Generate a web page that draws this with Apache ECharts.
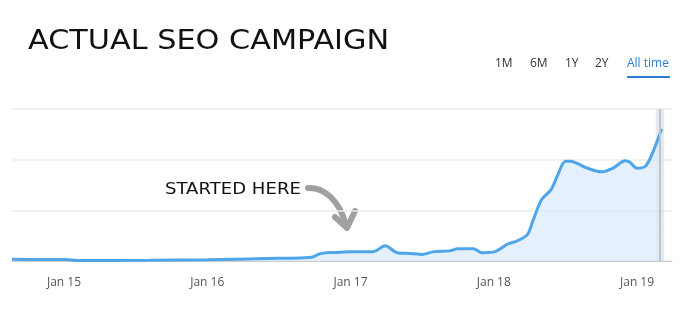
<!DOCTYPE html>
<html>
<head>
<meta charset="utf-8">
<script src="https://cdn.jsdelivr.net/npm/echarts@6/dist/echarts.min.js"></script>
<style>html,body{margin:0;padding:0;background:#fff;}#c{width:690px;height:321px;}</style>
</head>
<body>
<div id="c"></div>
<script>
// decimal year of each sample
const years = [2014.637, 2014.833, 2015.014, 2015.092, 2015.6, 2016.0, 2016.417, 2016.65, 2016.742, 2016.783, 2016.858, 2016.908, 2017.0, 2017.158, 2017.242, 2017.325, 2017.417, 2017.5, 2017.575, 2017.692, 2017.75, 2017.858, 2017.917, 2018.008, 2018.1, 2018.158, 2018.233, 2018.275, 2018.333, 2018.4, 2018.442, 2018.5, 2018.533, 2018.65, 2018.75, 2018.833, 2018.917, 2018.95, 2019.0, 2019.058, 2019.108, 2019.172];
// traffic values
const traffic = [3.4, 3, 3, 1, 1.4, 2.4, 5, 6, 8.5, 14, 17, 17, 18.4, 18.4, 30, 16.4, 15, 13, 18, 20, 24, 24, 16.4, 18.4, 34, 39, 51.5, 81, 121, 141, 167, 197, 197, 183.5, 176, 183.5, 198, 195, 183, 187, 213, 261];
const tickYears = [2015, 2016, 2017, 2018, 2019];
const tickLabels = ['Jan 15', 'Jan 16', 'Jan 17', 'Jan 18', 'Jan 19'];
const ranges = ['1M', '6M', '1Y', '2Y', 'All time'];

const chart = echarts.init(document.getElementById('c'), null, {renderer: 'canvas'});
const rangeX = [495, 530, 565, 595, 627];
const graphics = ranges.map((r, i) => ({
  type: 'text', x: rangeX[i], y: 58,
  style: {text: r, font: '12px "Open Sans"', fill: i === 4 ? '#2b7bd2' : '#333'}
}));
graphics.push({type: 'rect', shape: {x: 627, y: 76, width: 43, height: 2}, style: {fill: '#2b7bd2'}});
graphics.push({type: 'text', x: 28, y: 29, scaleX: 1.165, style: {text: 'ACTUAL SEO CAMPAIGN', font: '26px "DejaVu Sans"', fill: '#111'}});
graphics.push({type: 'text', x: 165, y: 182, scaleX: 1.13, style: {text: 'STARTED HERE', font: '16px "DejaVu Sans"', fill: '#111'}});
graphics.push({type: 'bezierCurve', shape: {x1: 308, y1: 188, cpx1: 323, cpy1: 187, cpx2: 339, cpy2: 199, x2: 346, y2: 225}, style: {stroke: '#a0a0a0', lineWidth: 6, fill: null, lineCap: 'round'}});
graphics.push({type: 'polyline', shape: {points: [[335, 217], [347, 228], [355, 211]]}, style: {stroke: '#a0a0a0', lineWidth: 6, fill: null, lineCap: 'round', lineJoin: 'round'}});

chart.setOption({
  animation: false,
  graphic: graphics,
  grid: {left: 12, right: 18, top: 109, bottom: 60},
  xAxis: {
    type: 'value', min: 2014.637, max: 2019.244,
    axisLine: {lineStyle: {color: '#ccc'}},
    axisTick: {show: false},
    splitLine: {show: false},
    axisLabel: {
      customValues: tickYears,
      formatter: v => tickLabels[tickYears.indexOf(Math.round(v))],
      color: '#555', fontFamily: 'Open Sans', fontSize: 12, margin: 16
    }
  },
  yAxis: {
    type: 'value', min: 0, max: 300, interval: 100,
    axisLabel: {show: false}, axisLine: {show: false}, axisTick: {show: false},
    splitLine: {lineStyle: {color: '#ebebeb', width: 1.5}}
  },
  series: [{
    type: 'line',
    data: years.map((y, i) => [y, traffic[i]]),
    smooth: 0.3,
    showSymbol: false,
    lineStyle: {color: '#4fa5ea', width: 3},
    areaStyle: {color: '#d8ebfb'},
    markArea: {silent: true, itemStyle: {color: 'rgba(180,190,200,0.3)'}, data: [[{xAxis: 2019.13}, {xAxis: 2019.19}]]},
    markLine: {silent: true, symbol: 'none', label: {show: false}, lineStyle: {color: '#bcc5cd', type: 'solid', width: 2}, data: [{xAxis: 2019.163}]}
  }]
});
</script>
</body>
</html>
